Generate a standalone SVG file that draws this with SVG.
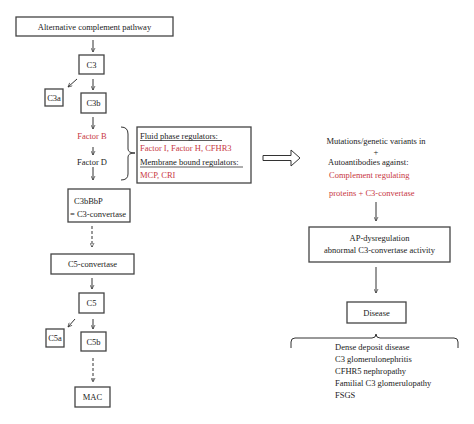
<svg xmlns="http://www.w3.org/2000/svg" width="474" height="424" viewBox="0 0 474 424">
<style>
text{font-family:"Liberation Serif","Times New Roman",serif;font-size:8.5px;fill:#222}
.r{fill:#c8373f}
.c{text-anchor:middle}
.box{fill:#fff;stroke:#444;stroke-width:1.3}
.ln{fill:none;stroke:#333;stroke-width:1}
.ds{fill:none;stroke:#333;stroke-width:1;stroke-dasharray:3,2}
</style>
<defs>
<marker id="ah" viewBox="0 0 10 10" refX="9" refY="5" markerWidth="5" markerHeight="5" orient="auto" markerUnits="userSpaceOnUse">
<path d="M1,1 L9,5 L1,9" fill="none" stroke="#333" stroke-width="1.4"/>
</marker>
</defs>
<rect width="474" height="424" fill="#fff"/>
<g id="connectors">
<line class="ln" x1="93" y1="40" x2="93" y2="52" marker-end="url(#ah)"/>
<line class="ln" x1="93" y1="79" x2="93" y2="90" marker-end="url(#ah)"/>
<line class="ln" x1="77" y1="79" x2="68" y2="87" marker-end="url(#ah)"/>
<line class="ln" x1="93" y1="117" x2="93" y2="129" marker-end="url(#ah)"/>
<line class="ln" x1="93" y1="147" x2="93" y2="155" marker-end="url(#ah)"/>
<line class="ln" x1="93" y1="167" x2="93" y2="180" marker-end="url(#ah)"/>
<line class="ds" x1="92" y1="226" x2="92" y2="247" marker-end="url(#ah)"/>
<line class="ln" x1="92" y1="278" x2="92" y2="289" marker-end="url(#ah)"/>
<line class="ln" x1="75" y1="319" x2="68" y2="327" marker-end="url(#ah)"/>
<line class="ln" x1="93" y1="319" x2="93" y2="329" marker-end="url(#ah)"/>
<line class="ds" x1="93" y1="358" x2="93" y2="382" marker-end="url(#ah)"/>
<path class="ln" d="M121,127 Q128,127 128,134 L128,149 Q128,153 135,153 Q128,153 128,157 L128,174 Q128,180 121,180"/>
<path d="M263,155.5 L291,155.5 L291,150 L300,158 L291,166 L291,160.5 L263,160.5 Z" fill="#fff" stroke="#333" stroke-width="1"/>
<line class="ln" x1="376" y1="202" x2="376" y2="221" marker-end="url(#ah)"/>
<line class="ln" x1="376" y1="267" x2="376" y2="293" marker-end="url(#ah)"/>
<path class="ln" d="M291,348 L291,342 Q291,338 295,338 L372,338 Q376,338 376,334 Q376,338 380,338 L454,338 Q458,338 458,342 L458,348"/>
</g>
<g id="alt"><rect class="box" x="16" y="17" width="157" height="19"/><text class="c" x="94.5" y="29.5">Alternative complement pathway</text></g>
<g id="c3"><rect class="box" x="79" y="55" width="25" height="19"/><text class="c" x="91.5" y="67.5">C3</text></g>
<g id="c3a"><rect class="box" x="45" y="89" width="18" height="17"/><text class="c" x="54" y="100.5">C3a</text></g>
<g id="c3b"><rect class="box" x="81" y="93" width="25" height="20"/><text class="c" x="93.5" y="106">C3b</text></g>
<g id="factorB"><text class="c r" x="92" y="139">Factor B</text></g>
<g id="factorD"><text class="c" x="92" y="165">Factor D</text></g>
<g id="regulators"><rect class="box" x="137" y="127" width="114" height="56"/>
<text x="140" y="138.5">Fluid phase regulators:</text>
<line x1="140" y1="140.5" x2="222" y2="140.5" stroke="#333" stroke-width="0.8"/>
<text class="r" x="140" y="150.5">Factor I, Factor H, CFHR3</text>
<text x="140" y="165">Membrane bound regulators:</text>
<line x1="140" y1="167" x2="243" y2="167" stroke="#333" stroke-width="0.8"/>
<text class="r" x="140" y="177.5">MCP, CRI</text></g>
<g id="c3conv"><rect class="box" x="68" y="189" width="62" height="33"/><text x="74" y="204">C3bBbP</text><text x="70" y="217">= C3-convertase</text></g>
<g id="c5conv"><rect class="box" x="51" y="254" width="83" height="20"/><text class="c" x="92.5" y="267">C5-convertase</text></g>
<g id="c5"><rect class="box" x="79" y="293" width="25" height="20"/><text class="c" x="91.5" y="306">C5</text></g>
<g id="c5a"><rect class="box" x="46" y="329" width="18" height="18"/><text class="c" x="55" y="341">C5a</text></g>
<g id="c5b"><rect class="box" x="81" y="332" width="25" height="19"/><text class="c" x="93.5" y="344.5">C5b</text></g>
<g id="mac"><rect class="box" x="75" y="387" width="35" height="20"/><text class="c" x="92.5" y="400">MAC</text></g>
<g id="causes">
<text class="c" x="376" y="144">Mutations/genetic variants in</text>
<text class="c" x="376" y="155">+</text>
<text x="328" y="165">Autoantibodies against:</text>
<text class="r" x="329" y="178">Complement regulating</text>
<text class="r" x="329" y="196">proteins + C3-convertase</text>
</g>
<g id="apdys"><rect class="box" x="309" y="227" width="141" height="35"/><text class="c" x="379.5" y="241">AP-dysregulation</text><text class="c" x="379.5" y="253">abnormal C3-convertase activity</text></g>
<g id="disease"><rect class="box" x="347" y="302" width="59" height="21"/><text class="c" x="376.5" y="315.5">Disease</text></g>
<g id="diseases">
<text x="335" y="350">Dense deposit disease</text>
<text x="335" y="362">C3 glomerulonephritis</text>
<text x="335" y="374">CFHR5 nephropathy</text>
<text x="335" y="386">Familial C3 glomerulopathy</text>
<text x="335" y="398">FSGS</text>
</g>
</svg>
